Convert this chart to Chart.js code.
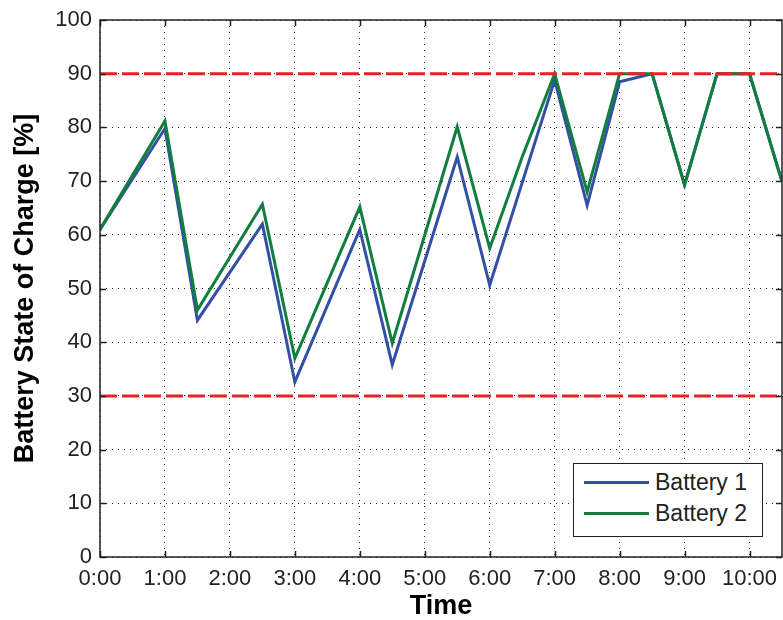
<!DOCTYPE html>
<html>
<head>
<meta charset="utf-8">
<script src="https://cdn.jsdelivr.net/npm/chart.js@4/dist/chart.umd.min.js"></script>
<style>
  body { margin: 0; background: #fff; }
  #wrap { position: relative; width: 783px; height: 620px; }
  #legend {
    position: absolute; left: 573px; top: 463px; width: 190px; height: 74px;
    border: 1.5px solid #222; background: #fff; box-sizing: border-box;
    font: 23px "Liberation Sans", Arial, sans-serif; color: #222;
  }
  #legend .row { position: absolute; left: 10px; height: 30px; display: flex; align-items: center; }
  #legend .sw { width: 65px; height: 3px; margin-right: 6px; }
</style>
</head>
<body>
<div id="wrap">
  <canvas id="chart" width="783" height="620"></canvas>
  <div id="legend"></div>
</div>
<script>
// time in hours
var times = [0, 1, 1.5, 2.5, 3, 4, 4.5, 5.5, 6, 6.5, 7, 7.5, 8, 8.5, 9, 9.5, 10, 10.5];
var battery1 = [61, 79.8, 44.1, 62, 32.6, 61, 35.8, 74.5, 50.6, null, 88.8, 65.5, 88.5, 90, 69.3, 90, 90, 69.9];
var battery2 = [61, 81.2, 46, 65.7, 37, 65.2, 39.8, 80.1, 57.5, 74.5, 90, 68, 90, 90, 69.3, 90, 90, 69.9];
var limits = [90, 30];
var xMin = 0, xMax = 10.5;
var hourTicks = [0, 1, 2, 3, 4, 5, 6, 7, 8, 9, 10];

var FONT = '"Liberation Sans", Arial, sans-serif';

function points(values){
    return values.map(function(v, i){ return {x: times[i], y: v}; });
}

var datasets = [
    {label: 'Battery 1', data: points(battery1), borderColor: 'rgb(52,80,165)', order: 2},
    {label: 'Battery 2', data: points(battery2), borderColor: 'rgb(16,126,62)', order: 1}
];
limits.forEach(function(l){
    datasets.push({
        label: '', data: [{x: xMin, y: l}, {x: xMax, y: l}],
        borderColor: 'rgb(236,32,36)', borderDash: [17, 5], order: 0
    });
});

// matlab style box + inward ticks
var boxPlugin = {
    id: 'box',
    afterDraw: function(chart){
        var ctx = chart.ctx, a = chart.chartArea, x = chart.scales.x, y = chart.scales.y;
        ctx.save();
        ctx.setLineDash([]);
        ctx.strokeStyle = '#222';
        ctx.lineWidth = 1.5;
        ctx.beginPath();
        x.ticks.forEach(function(t){
            var px = Math.round(x.getPixelForValue(t.value)) + 0.5;
            ctx.moveTo(px, a.bottom); ctx.lineTo(px, a.bottom - 6);
            ctx.moveTo(px, a.top); ctx.lineTo(px, a.top + 6);
        });
        y.ticks.forEach(function(t){
            var py = Math.round(y.getPixelForValue(t.value)) + 0.5;
            ctx.moveTo(a.left, py); ctx.lineTo(a.left + 6, py);
            ctx.moveTo(a.right, py); ctx.lineTo(a.right - 6, py);
        });
        ctx.stroke();
        ctx.strokeRect(a.left, a.top, a.right - a.left, a.bottom - a.top);
        ctx.restore();
    }
};

var chart = new Chart(document.getElementById('chart').getContext('2d'), {
    type: 'line',
    data: {datasets: datasets},
    options: {
        responsive: false,
        animation: false,
        parsing: false,
        spanGaps: true,
        layout: {padding: {top: 20, right: 1, left: 0, bottom: 0}},
        elements: {
            line: {borderWidth: 3, tension: 0, fill: false},
            point: {radius: 0, hoverRadius: 0}
        },
        plugins: {legend: {display: false}, tooltip: {enabled: false}},
        scales: {
            x: {
                type: 'linear', min: xMin, max: xMax,
                afterBuildTicks: function(s){ s.ticks = hourTicks.map(function(h){ return {value: h}; }); },
                afterFit: function(s){ s.height = 63; s.paddingRight = 0; s.paddingLeft = 0; },
                grid: {color: 'rgba(0,0,0,0.85)', lineWidth: 1, drawTicks: false},
                border: {display: false, dash: [1, 5]},
                ticks: {
                    padding: 9, color: '#222', font: {family: FONT, size: 22},
                    maxRotation: 0, autoSkip: false,
                    callback: function(v){ return v + ':00'; }
                },
                title: {display: true, text: 'Time', color: '#000',
                    font: {family: FONT, size: 27, weight: 'bold', lineHeight: 1},
                    padding: {top: 0, bottom: 0}}
            },
            y: {
                min: 0, max: 100,
                afterFit: function(s){ s.width = 100; s.paddingTop = 0; s.paddingBottom = 0; },
                grid: {color: 'rgba(0,0,0,0.85)', lineWidth: 1, drawTicks: false},
                border: {display: false, dash: [1, 5]},
                ticks: {stepSize: 10, padding: 8, color: '#222', font: {family: FONT, size: 22}},
                title: {display: true, text: 'Battery State of Charge [%]', color: '#000',
                    font: {family: FONT, size: 27, weight: 'bold', lineHeight: 1.2},
                    padding: {top: 9, bottom: 0}}
            }
        }
    },
    plugins: [boxPlugin]
});

// legend built from the datasets
var legend = document.getElementById('legend');
chart.data.datasets.filter(function(d){ return d.label; }).forEach(function(d, i){
    var row = document.createElement('div');
    row.className = 'row';
    row.style.top = (3 + i * 31.5) + 'px';
    row.innerHTML = '<span class="sw" style="background:' + d.borderColor + '"></span>' + d.label;
    legend.appendChild(row);
});
</script>
</body>
</html>
